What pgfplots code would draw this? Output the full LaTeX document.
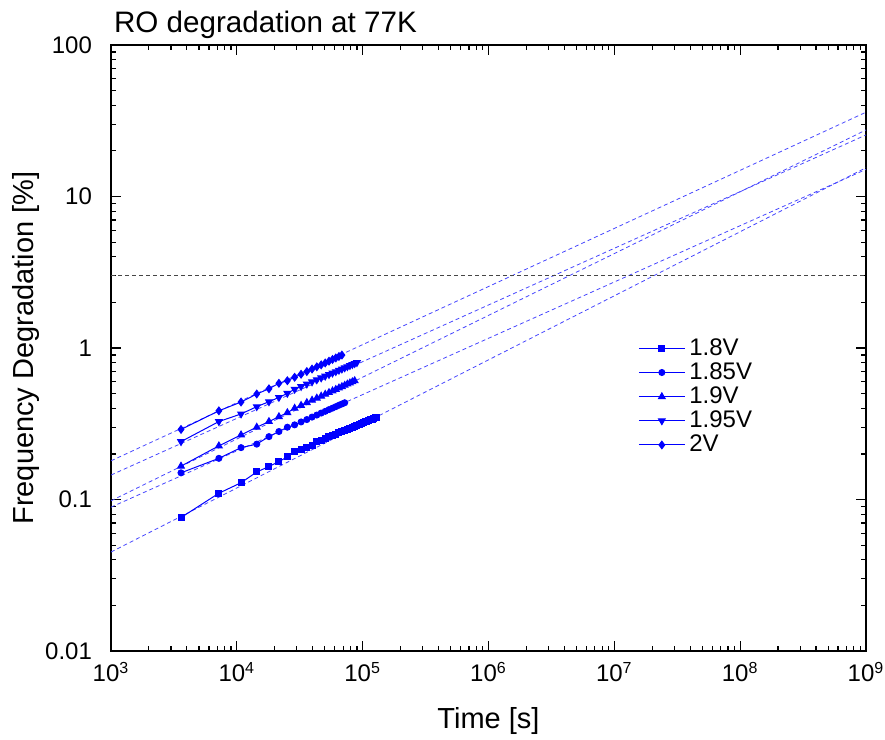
\documentclass[border=0pt]{standalone}
\usepackage{pgfplots}
\pgfplotsset{compat=1.18}
\usepackage{fontspec}
\setmainfont{Liberation Sans}
\definecolor{dblue}{RGB}{0,0,255}
\definecolor{fitblue}{RGB}{70,70,255}
\definecolor{refgray}{RGB}{70,70,70}

% hourly stress readings, t in s, degradation in %
\pgfplotstableread{
t v
3600 0.076
7200 0.110
10800 0.129
14400 0.152
18000 0.165
21600 0.178
25200 0.191
28800 0.206
32400 0.213
36000 0.220
39600 0.226
43200 0.240
46800 0.247
50400 0.253
54000 0.259
57600 0.265
61200 0.270
64800 0.276
68400 0.281
72000 0.286
75600 0.291
79200 0.295
82800 0.300
86400 0.304
90000 0.308
93600 0.313
97200 0.317
100800 0.321
104400 0.325
108000 0.328
111600 0.332
115200 0.336
118800 0.339
122400 0.343
126000 0.346
129600 0.349
}\dataA
\pgfplotstableread{
t v
3600 0.150
7200 0.187
10800 0.220
14400 0.232
18000 0.260
21600 0.281
25200 0.300
28800 0.311
32400 0.325
36000 0.337
39600 0.350
43200 0.361
46800 0.372
50400 0.382
54000 0.392
57600 0.401
61200 0.410
64800 0.419
68400 0.427
72000 0.435
}\dataB
\pgfplotstableread{
t v
3600 0.166
7200 0.226
10800 0.267
14400 0.300
18000 0.327
21600 0.352
25200 0.374
28800 0.400
32400 0.418
36000 0.436
39600 0.452
43200 0.467
46800 0.481
50400 0.495
54000 0.508
57600 0.521
61200 0.533
64800 0.545
68400 0.556
72000 0.567
75600 0.578
79200 0.588
82800 0.598
86400 0.608
}\dataC
\pgfplotstableread{
t v
3600 0.241
7200 0.327
10800 0.367
14400 0.410
18000 0.442
21600 0.472
25200 0.502
28800 0.534
32400 0.557
36000 0.578
39600 0.598
43200 0.617
46800 0.635
50400 0.652
54000 0.668
57600 0.683
61200 0.698
64800 0.713
68400 0.727
72000 0.740
75600 0.753
79200 0.766
82800 0.778
86400 0.790
90000 0.801
}\dataD
\pgfplotstableread{
t v
3600 0.290
7200 0.385
10800 0.440
14400 0.497
18000 0.538
21600 0.585
25200 0.608
28800 0.641
32400 0.671
36000 0.699
39600 0.726
43200 0.751
46800 0.774
50400 0.797
54000 0.819
57600 0.840
61200 0.860
64800 0.879
68400 0.898
}\dataE

\begin{document}
\begin{tikzpicture}
\useasboundingbox (-55.5pt,-44.5pt) rectangle (387pt,325.5pt);
\begin{axis}[
    at={(0pt,0pt)}, anchor=south west,
    scale only axis,
    width=377.5pt, height=303pt,
    xmode=log, ymode=log,
    xmin=1e3, xmax=1e9, ymin=0.01, ymax=100,
    axis line style={line width=1pt},
    tick style={black, line width=0.6pt},
    tick align=inside,
    major tick length=5pt,
    minor tick length=2.5pt,
    xtick={1e3,1e4,1e5,1e6,1e7,1e8,1e9},
    minor xtick={2e3,3e3,4e3,5e3,6e3,7e3,8e3,9e3,
                 2e4,3e4,4e4,5e4,6e4,7e4,8e4,9e4,
                 2e5,3e5,4e5,5e5,6e5,7e5,8e5,9e5,
                 2e6,3e6,4e6,5e6,6e6,7e6,8e6,9e6,
                 2e7,3e7,4e7,5e7,6e7,7e7,8e7,9e7,
                 2e8,3e8,4e8,5e8,6e8,7e8,8e8,9e8},
    xticklabels={10\textsuperscript{3},10\textsuperscript{4},10\textsuperscript{5},10\textsuperscript{6},10\textsuperscript{7},10\textsuperscript{8},10\textsuperscript{9}},
    ytick={0.01,0.1,1,10,100},
    minor ytick={0.02,0.03,0.04,0.05,0.06,0.07,0.08,0.09,
                 0.2,0.3,0.4,0.5,0.6,0.7,0.8,0.9,
                 2,3,4,5,6,7,8,9,
                 20,30,40,50,60,70,80,90},
    yticklabels={0.01,0.1,1,10,100},
    ticklabel style={font=\fontsize{12}{14}\selectfont},
    yticklabel style={xshift=-6pt},
    xticklabel style={yshift=-2pt},
    xlabel={Time [s]},
    ylabel={Frequency Degradation [\%]},
    label style={font=\fontsize{14.5}{17}\selectfont},
    xlabel style={yshift=-6pt},
    ylabel style={yshift=-4pt},
    title={RO degradation at 77K},
    every axis title shift=0pt,
    title style={at={(rel axis cs:0,1)}, anchor=base west, font=\fontsize{14.8}{17}\selectfont, xshift=-2pt, yshift=6pt},
    legend style={at={(rel axis cs:0.690,0.523)}, anchor=north west, draw=none, fill=none,
        font=\fontsize{12}{14}\selectfont, row sep=2.2pt, nodes={inner ysep=0pt}},
    legend cell align=left,
    legend image code/.code={\draw[mark repeat=2,mark phase=2] plot coordinates {(0pt,0pt) (11.5pt,0pt) (23pt,0pt)};},
]
% fitted power laws
\addplot[fitblue, line width=0.4pt, dash pattern=on 2pt off 1.5pt, forget plot] coordinates {(1e3,0.045) (1e9,15.5)};
\addplot[fitblue, line width=0.4pt, dash pattern=on 2pt off 1.5pt, forget plot] coordinates {(1e3,0.089) (1e9,15.1)};
\addplot[fitblue, line width=0.4pt, dash pattern=on 2pt off 1.5pt, forget plot] coordinates {(1e3,0.098) (1e9,27.5)};
\addplot[fitblue, line width=0.4pt, dash pattern=on 2pt off 1.5pt, forget plot] coordinates {(1e3,0.145) (1e9,25.5)};
\addplot[fitblue, line width=0.4pt, dash pattern=on 2pt off 1.5pt, forget plot] coordinates {(1e3,0.180) (1e9,36.0)};
% 3 % criterion
\addplot[refgray, line width=0.5pt, dash pattern=on 2pt off 1.5pt, forget plot] coordinates {(1e3,3) (1e9,3)};
% measurements
\addplot[dblue, line width=0.5pt, mark=square*, mark size=1.5pt] table[x=t,y=v] {\dataA};
\addplot[dblue, line width=0.5pt, mark=*, mark size=1.5pt] table[x=t,y=v] {\dataB};
\addplot[dblue, line width=0.5pt, mark=triangle*, mark size=1.9pt] table[x=t,y=v] {\dataC};
\addplot[dblue, line width=0.5pt, mark=triangle*, mark options={rotate=180}, mark size=1.9pt] table[x=t,y=v] {\dataD};
\addplot[dblue, line width=0.5pt, mark=diamond*, mark size=1.9pt] table[x=t,y=v] {\dataE};
\legend{1.8V,1.85V,1.9V,1.95V,2V}
\end{axis}
\end{tikzpicture}
\end{document}
